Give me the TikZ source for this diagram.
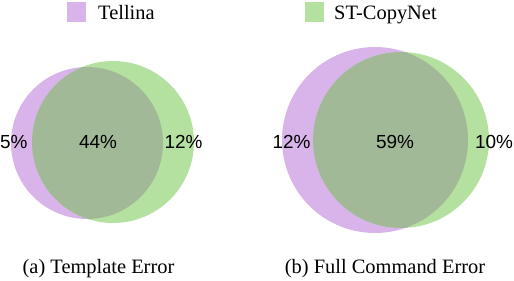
\documentclass[tikz,border=0pt]{standalone}
\usepackage{fontspec}
\setmainfont{Liberation Serif}
\newfontfamily\pctfont{Liberation Sans}
\definecolor{tpurple}{RGB}{217,180,235}
\definecolor{tgreen}{RGB}{180,224,160}
\definecolor{tboth}{RGB}{162,185,152}
\begin{document}
\begin{tikzpicture}[x=1bp,y=-1bp,
  pct/.style={font=\pctfont\fontsize{19}{19}\selectfont, inner sep=0pt, anchor=base},
  captext/.style={font=\fontsize{20.5}{21}\selectfont, inner sep=0pt, anchor=base},
  legsq/.style={minimum width=19bp, minimum height=20bp, inner sep=0pt}]
\useasboundingbox (0,0) rectangle (514,280);
% legend
\node[legsq, fill=tpurple] (lp) at (76.5,12) {};
\node[captext, anchor=base west] (lpt) at (98,19.5) {Tellina};
\node[legsq, fill=tgreen] (lg) at (314.5,12) {};
\node[captext, anchor=base west] (lgt) at (334,19.5) {ST-CopyNet};
% left venn
\fill[tpurple] (87,143) circle (76);
\fill[tgreen] (113,142) circle (81);
\begin{scope}
\clip (87,143) circle (76);
\fill[tboth] (113,142) circle (81);
\end{scope}
% right venn
\fill[tpurple] (375,140) circle (93);
\fill[tgreen] (401,140) circle (88);
\begin{scope}
\clip (375,140) circle (93);
\fill[tboth] (401,140) circle (88);
\end{scope}
% percentages
\node[pct, anchor=base west] (a1) at (0,148) {5\%};
\node[pct] (a2) at (98,148) {44\%};
\node[pct] (a3) at (183.5,148) {12\%};
\node[pct] (b1) at (291.5,148) {12\%};
\node[pct] (b2) at (395,148) {59\%};
\node[pct] (b3) at (494,148) {10\%};
% captions
\node[captext] (ca) at (98.5,273) {(a) Template Error};
\node[captext] (cb) at (385,273) {(b) Full Command Error};
\end{tikzpicture}
\end{document}
